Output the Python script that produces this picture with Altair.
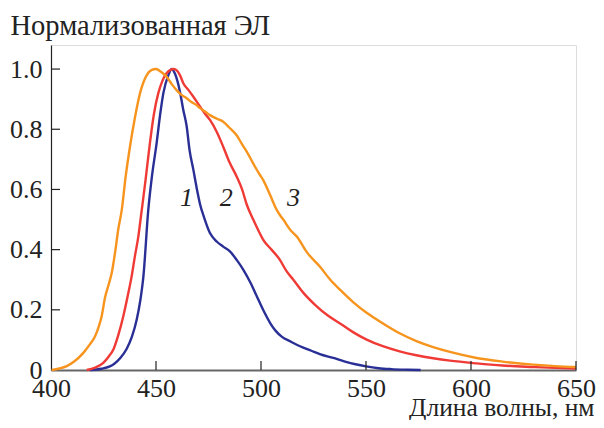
import altair as alt
import pandas as pd

# Curve 1 (blue)
nm1 = [418.6, 424, 428, 430, 433, 436, 438.5, 440.8, 442.5, 444, 446.3, 448, 450.3, 452, 453.5,
       455.9, 457.5, 459, 461.4, 463, 464.6, 466, 467.8, 469.5, 471, 473, 475.7, 478.9, 482, 485.2,
       488.5, 491.6, 495, 498, 501, 504.3, 507, 510, 514, 518.6, 524, 528, 534.4, 540, 545, 550,
       556, 562, 570, 576]
el1 = [0.0, 0.004, 0.012, 0.02, 0.04, 0.07, 0.11, 0.167, 0.23, 0.311, 0.53, 0.64, 0.754, 0.85, 0.92,
       0.98, 1.0, 0.985, 0.925, 0.864, 0.81, 0.73, 0.665, 0.6, 0.55, 0.505, 0.455, 0.427, 0.41, 0.394,
       0.365, 0.333, 0.29, 0.245, 0.2, 0.157, 0.13, 0.11, 0.095, 0.079, 0.064, 0.053, 0.04, 0.028, 0.019, 0.012,
       0.006, 0.003, 0.001, 0.0]

# Curve 2 (red)
nm2 = [417, 421, 424.9, 427.5, 429.7, 432, 434.4, 436.5, 438.4, 440, 441.6, 443, 445, 447.1, 449,
       451.1, 453, 455, 458.5, 461.4, 463, 465.5, 467.8, 471, 473.5, 475.7, 479, 482, 485, 488.4,
       491, 493.2, 496.3, 499, 501, 505, 509, 512, 515.4, 520, 526, 532, 538, 544, 550.3, 558,
       566, 574, 582, 590, 602.7, 615, 629.7, 640, 650]
el2 = [0.0, 0.008, 0.024, 0.045, 0.068, 0.115, 0.178, 0.245, 0.311, 0.38, 0.444, 0.52, 0.63, 0.754, 0.85,
       0.92, 0.96, 0.986, 1.0, 0.98, 0.953, 0.93, 0.908, 0.875, 0.85, 0.831, 0.79, 0.742, 0.69, 0.643,
       0.6, 0.55, 0.50, 0.46, 0.433, 0.40, 0.366, 0.33, 0.30, 0.258, 0.215, 0.18, 0.153, 0.125, 0.101, 0.079,
       0.062, 0.049, 0.039, 0.031, 0.022, 0.015, 0.01, 0.007, 0.005]

# Curve 3 (orange)
nm3 = [400.3, 404, 407.5, 411, 415.4, 418.5, 421, 423, 424.1, 425.7, 427.5, 428.9, 430.5, 432, 433.7,
       435.5, 437.6, 440, 442.4, 445.6, 448, 450, 452.5, 455.1, 457.5, 459.8, 462, 464.6, 467, 469.4,
       471, 473.5, 475.7, 479, 482, 485, 488.4, 491, 493.2, 496, 499.5, 501, 504.3, 507.5, 509, 510.6,
       514, 517, 522, 528, 533, 537.6, 544, 550.3, 558, 566, 574, 582, 590, 602.7, 615, 629.7, 640, 650]
el3 = [0.0, 0.005, 0.013, 0.028, 0.057, 0.085, 0.112, 0.15, 0.178, 0.24, 0.285, 0.322, 0.39, 0.466, 0.532,
       0.64, 0.742, 0.84, 0.92, 0.98, 0.997, 1.0, 0.99, 0.974, 0.95, 0.93, 0.915, 0.903, 0.89, 0.88,
       0.87, 0.858, 0.847, 0.835, 0.825, 0.805, 0.78, 0.75, 0.726, 0.69, 0.648, 0.632, 0.582, 0.532, 0.515, 0.50,
       0.465, 0.444, 0.39, 0.344, 0.3, 0.267, 0.225, 0.19, 0.155, 0.122, 0.096, 0.076, 0.06, 0.04, 0.028, 0.018, 0.013, 0.01]

series_names = ["1", "2", "3"]
series_colors = ["#2a2f96", "#ef3a36", "#f7941d"]

label_text = ["1", "2", "3"]
label_x = [464.5, 483.5, 515.5]
label_y = [0.57, 0.57, 0.57]

x_ticks = [450, 500, 550, 600, 650]
y_ticks = [0.2, 0.4, 0.6, 0.8, 1.0]
x_label_values = [400, 450, 500, 550, 600, 650]
y_label_values = [0, 0.2, 0.4, 0.6, 0.8, 1.0]

FONT = "Liberation Serif"
W, H = 525, 325

rows = []
for name, xs, ys in zip(series_names, [nm1, nm2, nm3], [el1, el2, el3]):
    for i, (a, b) in enumerate(zip(xs, ys)):
        rows.append({"s": name, "nm": a, "el": b, "o": i})
df = pd.DataFrame(rows)

xscale = alt.Scale(domain=[400, 650], nice=False, zero=False)
yscale = alt.Scale(domain=[0, 1.08], nice=False)

lines = alt.Chart(df).mark_line(strokeWidth=2.4, interpolate="monotone").encode(
    x=alt.X("nm:Q", scale=xscale, axis=alt.Axis(
        values=x_label_values, ticks=False, grid=False, labelPadding=5,
        labelFont=FONT, labelFontSize=26, labelColor="#222", labelFlush=False,
        domainColor="#666", domainWidth=2,
        title="Длина волны, нм", titleFont=FONT, titleFontSize=25.5, titleFontWeight="normal",
        titleColor="#222", titleX=543, titleY=45, titleAlign="right", titleBaseline="alphabetic")),
    y=alt.Y("el:Q", scale=yscale, axis=alt.Axis(
        values=y_label_values, ticks=False, grid=False, labelPadding=9,
        labelExpr="datum.value == 0 ? '0' : format(datum.value, '.1f')",
        labelFont=FONT, labelFontSize=26, labelColor="#222",
        domainColor="#222", domainWidth=1.2,
        title="Нормализованная ЭЛ", titleFont=FONT, titleFontSize=28.5, titleFontWeight="normal",
        titleColor="#222", titleAngle=0, titleX=-41, titleY=-11, titleAlign="left",
        titleBaseline="alphabetic")),
    color=alt.Color("s:N", scale=alt.Scale(domain=series_names, range=series_colors), legend=None),
    order="o:Q",
)

labels = alt.Chart(pd.DataFrame({"t": label_text, "x": label_x, "y": label_y})).mark_text(
    font=FONT, fontSize=26, fontStyle="italic", color="#222"
).encode(x=alt.X("x:Q", scale=xscale), y=alt.Y("y:Q", scale=yscale), text="t:N")

xt = alt.Chart(pd.DataFrame({"v": x_ticks})).mark_rule(color="#222", strokeWidth=1.2).encode(
    x=alt.X("v:Q", scale=xscale), y=alt.value(H), y2=alt.value(H - 9))
yt = alt.Chart(pd.DataFrame({"v": y_ticks})).mark_rule(color="#222", strokeWidth=1.2).encode(
    y=alt.Y("v:Q", scale=yscale), x=alt.value(0), x2=alt.value(9))

chart = alt.layer(lines, xt, yt, labels).properties(
    width=W, height=H,
    autosize=alt.AutoSizeParams(type="none"),
    padding={"left": 43, "top": 37, "right": 20, "bottom": 50},
).configure_view(stroke=None).configure(background="white")

chart.save("out.html", embed_options={"renderer": "svg", "actions": False})
